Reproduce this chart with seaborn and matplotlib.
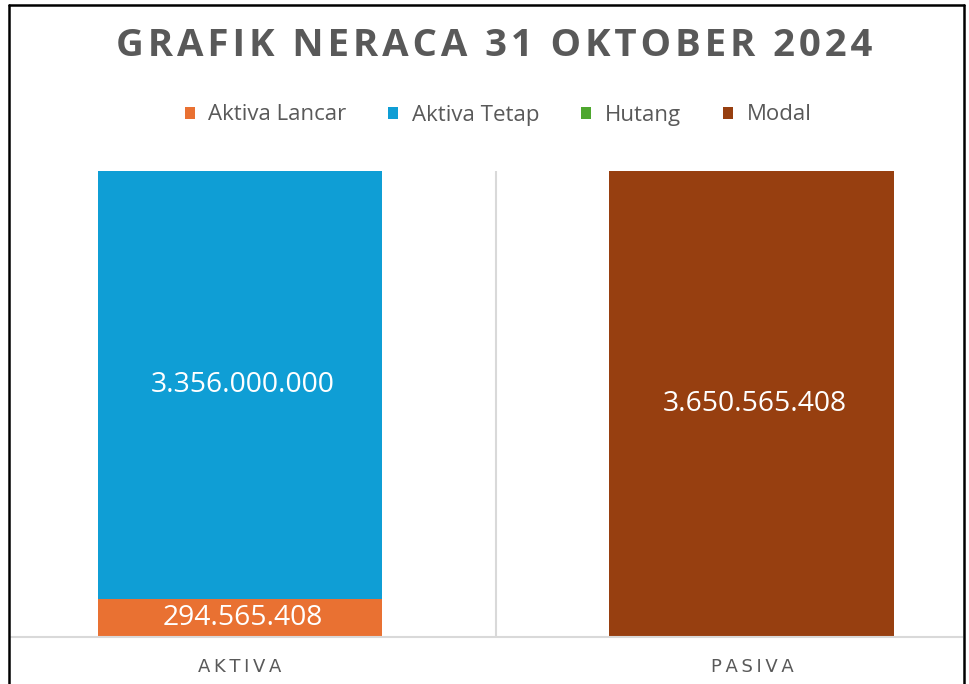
import pandas as pd
import seaborn as sns
import matplotlib.pyplot as plt
from matplotlib.patches import Patch
from matplotlib.lines import Line2D

# data
categories = ["AKTIVA", "PASIVA"]
aktiva_lancar = [294565408, 0]
aktiva_tetap = [3356000000, 0]
hutang = [0, 0]
modal = [0, 3650565408]

series_names = ["Aktiva Lancar", "Aktiva Tetap", "Hutang", "Modal"]
series_colors = ["#E97132", "#0F9ED5", "#4EA72E", "#973F10"]
title = "GRAFIK NERACA 31 OKTOBER 2024"

TEXT_GRAY = "#595959"
GRID_GRAY = "#D9D9D9"


def fmt_id(v):
    return f"{v:,}".replace(",", ".")


def spaced(s, sep="\u200a"):
    return sep.join(s)


df = pd.DataFrame({
    "kategori": categories,
    "Aktiva Lancar": aktiva_lancar,
    "Aktiva Tetap": aktiva_tetap,
    "Hutang": hutang,
    "Modal": modal,
})

sns.set_theme(style="white")
plt.rcParams["font.family"] = ["Open Sans", "DejaVu Sans"]

fig = plt.figure(figsize=(9.7, 6.84), dpi=100)
W, H = 970, 684
ax = fig.add_axes([10 / W, 47 / H, 952 / W, 466 / H])

# stacked bars: draw cumulative totals from top layer down
bar_w = 285 / 512
cum = df[series_names].cumsum(axis=1)
for name, color in reversed(list(zip(series_names, series_colors))):
    sns.barplot(data=cum.assign(kategori=df["kategori"]), x="kategori", y=name,
                color=color, width=bar_w, ax=ax, saturation=1, linewidth=0)

# data labels in the middle of each segment
for i in range(len(categories)):
    base = 0
    for name in series_names:
        v = df[name].iloc[i]
        if v > 0:
            ax.text(i + 0.006, base + v / 2, fmt_id(v), ha="center", va="center",
                    color="white", fontsize=20.3)
        base += v

total = df[series_names].sum(axis=1).max()
ax.set_xlim((10 - 240) / 512, (962 - 240) / 512)
ax.set_ylim(0, total)

ax.axvline(0.5, color=GRID_GRAY, lw=1.5, zorder=0)
for s in ["top", "right", "left"]:
    ax.spines[s].set_visible(False)
ax.spines["bottom"].set_color(GRID_GRAY)
ax.spines["bottom"].set_linewidth(1.5)

ax.set_yticks([])
ax.set_xticks([0, 1])
ax.set_xticklabels([spaced(c, "\u2009") for c in categories], color=TEXT_GRAY,
                   fontsize=13, family=["DejaVu Sans"])
ax.tick_params(axis="x", length=0, pad=15)
ax.set_xlabel("")
ax.set_ylabel("")

# title
fig.text(494 / W, 1 - 46 / H, spaced(title), ha="center", va="center",
         fontsize=27.6, fontweight="bold", color=TEXT_GRAY,
         family=["Open Sans", "DejaVu Sans"])

# legend
handles = [Patch(facecolor=c, edgecolor="none", label=n)
           for n, c in zip(series_names, series_colors)]
fig.legend(handles=handles, loc="center", bbox_to_anchor=(498 / W, 1 - 115 / H),
           ncol=4, frameon=False, fontsize=16, labelcolor=TEXT_GRAY,
           handlelength=0.45, handleheight=0.45, handletextpad=0.6,
           columnspacing=1.9)

# outer frame (bottom edge is cropped in the reference)
frame_kw = dict(color="black", lw=1.8, transform=fig.transFigure)
fig.add_artist(Line2D([9 / W, 9 / W], [0, 1 - 5 / H], **frame_kw))
fig.add_artist(Line2D([9 / W, 964 / W], [1 - 5 / H, 1 - 5 / H], **frame_kw))
fig.add_artist(Line2D([964 / W, 964 / W], [0, 1 - 5 / H], **frame_kw))

fig.savefig("out.png", dpi=100)
plt.close(fig)
